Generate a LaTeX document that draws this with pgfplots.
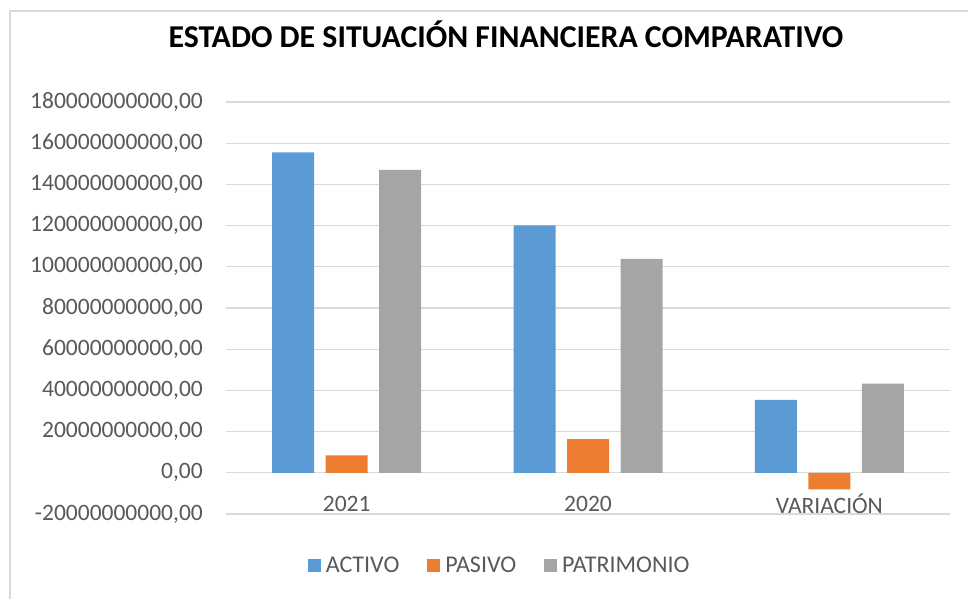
\documentclass[border=0pt]{standalone}
\usepackage{pgfplots}
\pgfplotsset{compat=1.18}
\usepackage{fontspec}
\setmainfont{Carlito}
\definecolor{cact}{HTML}{5B9BD5}
\definecolor{cpas}{HTML}{ED7D31}
\definecolor{cpat}{HTML}{A5A5A5}
\definecolor{ctxt}{HTML}{595959}
\definecolor{cgrid}{HTML}{D9D9D9}
\begin{document}
\begin{tikzpicture}[x=1pt,y=1pt]
\useasboundingbox (0,0) rectangle (968,599);
\draw[cgrid, line width=1.2pt] (10,0) -- (10,588) -- (968,588);
\node[font=\fontsize{31.8}{36}\selectfont\bfseries, anchor=center] at (506,565) {ESTADO DE SITUACIÓN FINANCIERA COMPARATIVO};
\begin{axis}[
  at={(226pt,85pt)}, anchor=south west,
  scale only axis, width=724pt, height=412pt,
  ybar=0pt, bar width=42pt, bar shift auto,
  xmin=-0.5, xmax=2.5,
  ymin=-20e9, ymax=180e9,
  ytick={-20e9,0,20e9,40e9,60e9,80e9,100e9,120e9,140e9,160e9,180e9},
  xtick={0,1,2},
  xticklabels={2021,2020,VARIACIÓN},
  scaled y ticks=false,
  ymajorgrids, grid style={cgrid, line width=1.2pt},
  axis line style={draw=none},
  major tick length=0pt,
  tick label style={font=\fontsize{23.5}{27}\selectfont, text=ctxt},
  yticklabel style={/pgf/number format/.cd, fixed, fixed zerofill, precision=2, use comma, 1000 sep={}, assume math mode=true, /tikz/.cd, anchor=east, inner sep=0pt, xshift=-23pt},
  xticklabel style={anchor=center, inner sep=0pt, yshift=10pt},
  legend columns=3,
  legend style={draw=none, fill=none, at={(0.378,-0.124)}, anchor=center,
    font=\fontsize{24}{28}\selectfont, text=ctxt,
    /tikz/every odd column/.append style={column sep=3pt},
    /tikz/every even column/.append style={column sep=26pt}},
  legend image code/.code={\fill[#1, draw=none] (0pt,-6.5pt) rectangle (13pt,6.5pt);},
  clip=false,
]
\addplot[fill=cact, draw=none, bar shift=-53.5pt] coordinates {(0,155.5e9) (1,120.1e9) (2,35.4e9)};
\addplot[fill=cpas, draw=none, bar shift=0pt] coordinates {(0,8.4e9) (1,16.4e9) (2,-8.0e9)};
\addplot[fill=cpat, draw=none, bar shift=53.5pt] coordinates {(0,147.1e9) (1,103.8e9) (2,43.3e9)};
\legend{ACTIVO,PASIVO,PATRIMONIO}
\end{axis}
\end{tikzpicture}
\end{document}
